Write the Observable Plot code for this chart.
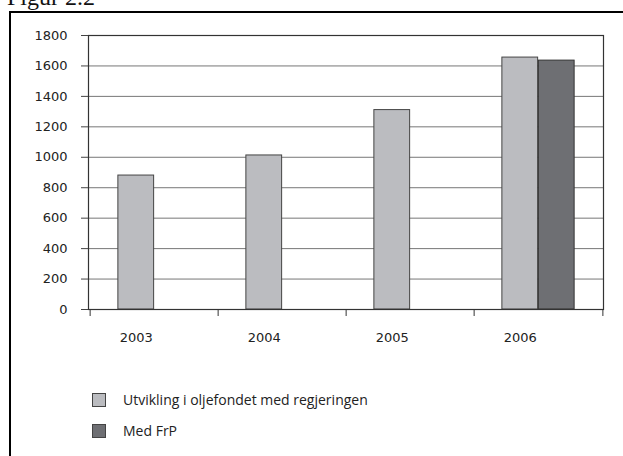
<!DOCTYPE html>
<html><head><meta charset="utf-8">
<script src="https://cdn.jsdelivr.net/npm/d3@7"></script>
<script src="https://cdn.jsdelivr.net/npm/@observablehq/plot@0.6"></script>
<style>
html,body{margin:0;padding:0;background:#fff;overflow:hidden;width:623px;height:456px;}
#title{position:absolute;left:7px;top:-15px;font:24px "Liberation Serif",serif;line-height:1;white-space:nowrap;color:#111}
#frame{position:absolute;left:9px;top:11px;width:700px;height:600px;border:2px solid #000;box-sizing:border-box}
#chart{position:absolute;left:0;top:0}
#chart svg text{font-family:"DejaVu Sans",sans-serif;font-size:13px;fill:#222}
#legend{position:absolute;left:92px;top:384px;font:14px "Open Sans",sans-serif;color:#222}
.item{display:flex;align-items:center;height:31px}
.sw{width:12px;height:12px;border:1px solid #444;margin-right:17px;flex:none}
</style></head>
<body>
<div id="title">Figur 2.2</div>
<div id="frame"></div>
<div id="chart"></div>
<div id="legend"></div>
<script>
const years = ["2003", "2004", "2005", "2006"];
const seriesNames = ["Utvikling i oljefondet med regjeringen", "Med FrP"];
const regjeringen = [880, 1012, 1310, 1655];
const medFrP = [null, null, null, 1635];
const yTicks = [0, 200, 400, 600, 800, 1000, 1200, 1400, 1600, 1800];
const gridTicks = [200, 400, 600, 800, 1000, 1200, 1400, 1600];
const colors = ["#bbbcc0", "#6e6f73"];

const data = [];
years.forEach((y, i) => {
  data.push({year: y, series: seriesNames[0], value: regjeringen[i]});
  if (medFrP[i] != null) data.push({year: y, series: seriesNames[1], value: medFrP[i]});
});

const W = 623, H = 360, ML = 88, MR = 20, MT = 35, MB = 51;
const bw = (W - ML - MR) / years.length;
const g = 0.567;                 // group width as fraction of band
const barW = bw * g / 2;
const lead = bw * (1 - g) / 2;

const plot = Plot.plot({
  width: W, height: H,
  marginLeft: ML, marginRight: MR, marginTop: MT, marginBottom: MB,
  style: {fontFamily: "DejaVu Sans", fontSize: "13px", color: "#222", background: "transparent"},
  x: {type: "band", domain: years, padding: 0, axis: null, label: null},
  y: {domain: [0, 1800], axis: null, label: null},
  color: {domain: seriesNames, range: colors},
  marks: [
    Plot.ruleY(gridTicks, {stroke: "#777", strokeWidth: 1}),
    Plot.barY(data.filter(d => d.series === seriesNames[0]), {
      x: "year", y: "value", fill: "series", stroke: "#444", strokeWidth: 1,
      insetLeft: lead, insetRight: bw - lead - barW
    }),
    Plot.barY(data.filter(d => d.series === seriesNames[1]), {
      x: "year", y: "value", fill: "series", stroke: "#333", strokeWidth: 1,
      insetLeft: lead + barW, insetRight: lead
    }),
    Plot.frame({stroke: "#333", strokeWidth: 1.2}),
    Plot.axisY({ticks: yTicks, tickSize: 7, tickPadding: 14, stroke: "#444", label: null,
      fontFamily: "DejaVu Sans", fontSize: 13, tickFormat: d => String(d)}),
    Plot.axisX({tickSize: 0, tickPadding: 23, dx: -bw * g / 4, label: null,
      fontFamily: "DejaVu Sans", fontSize: 13}),
    Plot.ruleX(years, {x: d => d, dx: -bw / 2, y1: 0, y2: 0, insetBottom: -7, stroke: "#333"}),
    Plot.ruleX([years[years.length - 1]], {x: d => d, dx: bw / 2, y1: 0, y2: 0, insetBottom: -7, stroke: "#333"})
  ]
});
document.getElementById("chart").appendChild(plot);

const color = plot.scale("color");
const leg = document.getElementById("legend");
color.domain.forEach((name, i) => {
  const it = document.createElement("div");
  it.className = "item";
  const sw = document.createElement("span");
  sw.className = "sw";
  sw.style.background = color.range[i];
  const tx = document.createElement("span");
  tx.textContent = name;
  it.appendChild(sw); it.appendChild(tx);
  leg.appendChild(it);
});
</script>
</body></html>
